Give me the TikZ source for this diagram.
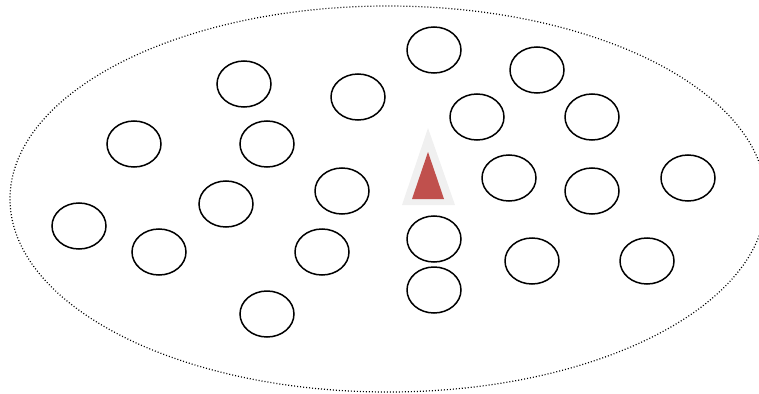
\documentclass[tikz,border=0pt]{standalone}
\usepackage{tikz}
\usepackage{xcolor}
\definecolor{markRed}{RGB}{192,80,77}
\definecolor{markGlow}{RGB}{240,240,240}
\usetikzlibrary{shapes.geometric}

\begin{document}
\begin{tikzpicture}[
    x=1pt, y=-1pt,
    cell/.style={ellipse, draw=black, line width=1.5pt, minimum width=54pt,
                 minimum height=46pt, inner sep=0pt},
    region/.style={ellipse, draw=black, line width=1.2pt,
                   dash pattern=on 1pt off 2pt, inner sep=0pt}
  ]
  \useasboundingbox (0,0) rectangle (759,393);
  \clip (0,0) rectangle (759,393);

  % outer boundary
  \node[region, minimum width=756pt, minimum height=386pt] (area) at (388,199) {};

  % cells
  \node[cell] (c1)  at (434, 50) {};
  \node[cell] (c2)  at (537, 70) {};
  \node[cell] (c3)  at (244, 84) {};
  \node[cell] (c4)  at (358, 97) {};
  \node[cell] (c5)  at (477,117) {};
  \node[cell] (c6)  at (592,117) {};
  \node[cell] (c7)  at (134,144) {};
  \node[cell] (c8)  at (267,144) {};
  \node[cell] (c9)  at (342,191) {};
  \node[cell] (c10) at (509,178) {};
  \node[cell] (c11) at (592,191) {};
  \node[cell] (c12) at (688,178) {};
  \node[cell] (c13) at (226,204) {};
  \node[cell] (c14) at ( 79,226) {};
  \node[cell] (c15) at (159,252) {};
  \node[cell] (c16) at (322,252) {};
  \node[cell] (c17) at (434,239) {};
  \node[cell] (c18) at (434,290) {};
  \node[cell] (c19) at (532,261) {};
  \node[cell] (c20) at (647,261) {};
  \node[cell] (c21) at (267,314) {};

  % marker
  \fill[markGlow] (428,128) -- (455,205) -- (402,205) -- cycle;
  \fill[markRed]  (428,152) -- (444,199) -- (412,199) -- cycle;
\end{tikzpicture}
\end{document}
